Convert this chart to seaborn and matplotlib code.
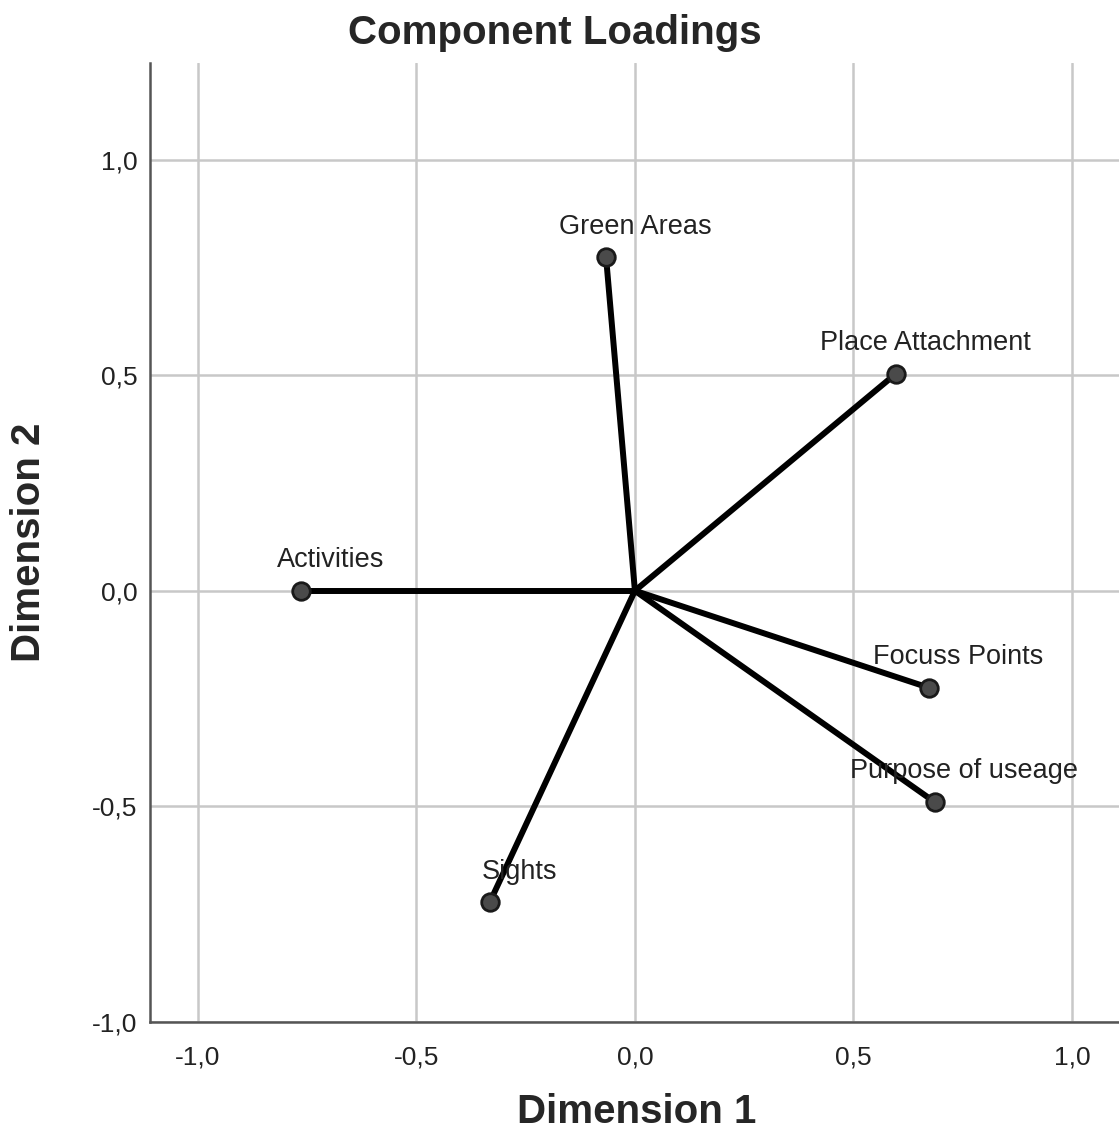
import matplotlib
matplotlib.use("Agg")
from matplotlib import pyplot as plt
import pandas as pd
import seaborn as sns

# component loadings
variables = ["Green Areas", "Place Attachment", "Activities", "Focuss Points", "Purpose of useage", "Sights"]
dim1 = [-0.066, 0.597, -0.764, 0.673, 0.686, -0.332]
dim2 = [0.773, 0.503, 0.0, -0.225, -0.490, -0.722]
tick_values = [-1.0, -0.5, 0.0, 0.5, 1.0]
tick_labels = ["-1,0", "-0,5", "0,0", "0,5", "1,0"]

sns.set_style("white")
plt.rcParams["font.family"] = ["Liberation Sans", "DejaVu Sans"]

points = pd.DataFrame({"variable": variables, "dim1": dim1, "dim2": dim2})
origins = pd.DataFrame({"variable": variables, "dim1": 0.0, "dim2": 0.0})
segments = pd.concat([origins, points], ignore_index=True)

fig = plt.figure(figsize=(11.19, 11.48), dpi=100)
ax = fig.add_axes([0.134, 0.1098, 0.866, 0.835])

ax.grid(True, color="#c8c8c8", linewidth=1.8)
ax.set_axisbelow(True)

sns.lineplot(
    data=segments, x="dim1", y="dim2", units="variable", estimator=None,
    sort=False, color="black", linewidth=4.3, ax=ax, zorder=3,
)
sns.scatterplot(
    data=points, x="dim1", y="dim2", color="#4a4a4a", edgecolor="#1a1a1a",
    linewidth=2.0, s=160, ax=ax, zorder=4,
)

for name, x, y in zip(variables, dim1, dim2):
    ax.annotate(
        name, (x, y), xytext=(21, 22), textcoords="offset points",
        ha="center", va="center", fontsize=19.5, color="#222222", zorder=5,
    )

ax.set_xlim(-1.11, 1.108)
ax.set_ylim(-1.0, 1.223)
ax.set_xticks(tick_values)
ax.set_xticklabels(tick_labels)
ax.set_yticks(tick_values)
ax.set_yticklabels(tick_labels)
ax.tick_params(axis="x", length=0, pad=17, labelsize=19, labelcolor="#222222")
ax.tick_params(axis="y", length=0, pad=9, labelsize=19, labelcolor="#222222")

for side in ["top", "right"]:
    ax.spines[side].set_visible(False)
for side in ["left", "bottom"]:
    ax.spines[side].set_color("#555555")
    ax.spines[side].set_linewidth(1.8)

ax.set_xlabel("")
ax.set_ylabel("")
fig.text(0.496, 0.971, "Component Loadings", ha="center", va="center",
         fontsize=29, fontweight="bold")
fig.text(0.569, 0.031, "Dimension 1", ha="center", va="center",
         fontsize=29, fontweight="bold")
fig.text(0.026, 0.528, "Dimension 2", ha="center", va="center",
         fontsize=29, fontweight="bold", rotation=90)

plt.savefig("out.png", dpi=100)
